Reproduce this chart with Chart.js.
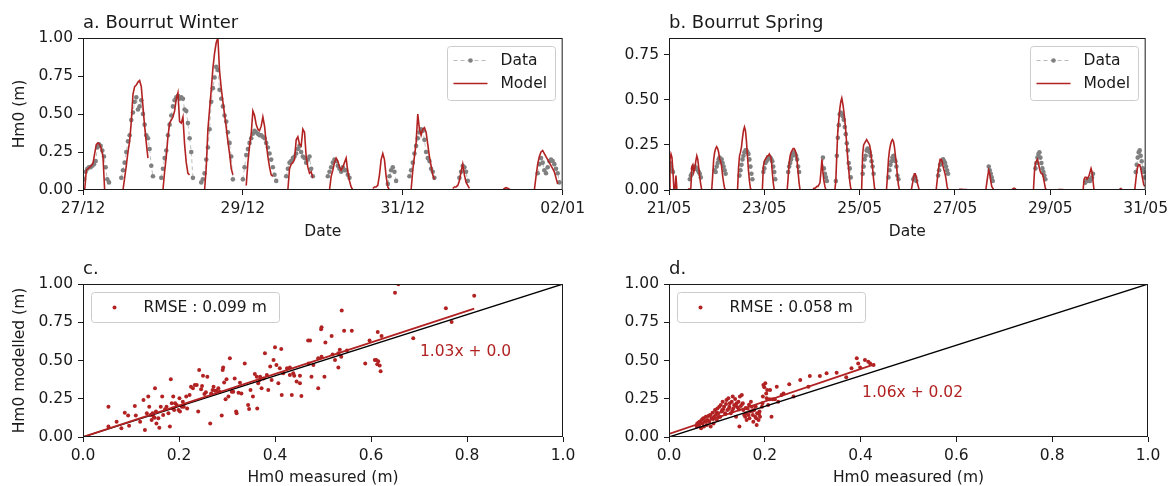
<!DOCTYPE html>
<html lang="en">
<head>
<meta charset="UTF-8">
<title>Bourrut Hm0 - data vs model</title>
<script src="https://cdn.jsdelivr.net/npm/chart.js"></script>
<style>
  html, body { margin: 0; padding: 0; background: #fff; overflow: hidden; }
  #page { position: relative; width: 1173px; height: 486px; overflow: hidden; }
  .panel { position: absolute; }
  .panel canvas { display: block; }
</style>
</head>
<body>
<div id="page">
  <div class="panel" style="left:0;top:0"><canvas id="winterTs" width="590" height="250"></canvas></div>
  <div class="panel" style="left:590px;top:0"><canvas id="springTs" width="583" height="250"></canvas></div>
  <div class="panel" style="left:0;top:250px"><canvas id="winterSc" width="590" height="240"></canvas></div>
  <div class="panel" style="left:590px;top:250px"><canvas id="springSc" width="583" height="240"></canvas></div>
</div>

<script>
// ---- data (hours since start of period, Hm0 in m), half-hourly samples ----
const sampleStep = 0.5;

// a. winter, 27/12 -> 02/01
const winterXTicks = [0, 48, 96, 144];
const winterXLabels = ['27/12', '29/12', '31/12', '02/01'];
const winterYTicks = [0, 0.25, 0.5, 0.75, 1];
const winterYLabels = ['0.00', '0.25', '0.50', '0.75', '1.00'];

const winterDataStart = [0.3, 11.5, 23.5, 35.5, 48, 61, 73.5, 91.5, 98, 113, 136.5];
const winterDataHm = [
  [0.07, 0.12, 0.14, 0.15, 0.15, 0.16, 0.17, 0.19, 0.28, 0.30, 0.29, 0.26, 0.22, 0.15, 0.07, 0.05],
  [0.08, 0.13, 0.18, 0.25, 0.32, 0.36, 0.46, 0.51, 0.58, 0.61, 0.53, 0.55, 0.59, 0.50, 0.43, 0.36, 0.34, 0.27, 0.16, 0.09],
  [0.08, 0.14, 0.21, 0.26, 0.36, 0.43, 0.49, 0.55, 0.59, 0.61, 0.62, 0.60, 0.61, 0.60, 0.53, 0.52, 0.44, 0.34, 0.25, 0.08],
  [0.05, 0.07, 0.11, 0.20, 0.28, 0.40, 0.58, 0.67, 0.74, 0.81, 0.79, 0.66, 0.60, 0.55, 0.49, 0.45, 0.38, 0.31, 0.22, 0.07],
  [0.07, 0.15, 0.23, 0.27, 0.31, 0.34, 0.37, 0.39, 0.38, 0.37, 0.36, 0.36, 0.35, 0.34, 0.31, 0.28, 0.24, 0.20, 0.15, 0.10, 0.06],
  [0.09, 0.14, 0.18, 0.19, 0.21, 0.22, 0.24, 0.27, 0.29, 0.25, 0.22, 0.21, 0.18, 0.20, 0.22, 0.14, 0.09],
  [0.09, 0.12, 0.15, 0.18, 0.20, 0.19, 0.16, 0.14, 0.12, 0.15, 0.13, 0.13, 0.10, 0.08],
  [0.04, 0.09, 0.13, 0.15, 0.12, 0.06],
  [0.09, 0.13, 0.18, 0.24, 0.29, 0.34, 0.38, 0.40, 0.39, 0.33, 0.25, 0.21, 0.19, 0.14, 0.12, 0.08],
  [0.08, 0.12, 0.16, 0.15, 0.12, 0.06],
  [0.11, 0.17, 0.21, 0.18, 0.13, 0.11, 0.15, 0.19, 0.20, 0.19, 0.17, 0.14, 0.11, 0.05]
];

const winterModelStart = [0.5, 12, 24, 36.5, 49, 61.5, 74, 87, 98.5, 111, 126, 135.5];
const winterModelHm = [
  [0, 0.13, 0.14, 0.15, 0.16, 0.175, 0.24, 0.30, 0.31, 0.30, 0.27, 0.22, 0],
  [0, 0.08, 0.16, 0.25, 0.32, 0.45, 0.63, 0.68, 0.69, 0.71, 0.72, 0.68, 0.55, 0.42, 0.31, 0.21],
  [0, 0.12, 0.22, 0.35, 0.44, 0.46, 0.48, 0.52, 0.60, 0.64, 0.45, 0.44, 0.48, 0.30, 0.18, 0.11, 0.10],
  [0, 0.15, 0.40, 0.53, 0.66, 0.80, 0.90, 0.97, 1.0, 0.78, 0.67, 0.58, 0.50, 0.41, 0.32, 0.24, 0.14, 0.10],
  [0.03, 0.18, 0.29, 0.37, 0.52, 0.49, 0.43, 0.40, 0.39, 0.42, 0.48, 0.42, 0.31, 0.22, 0.15, 0.10, 0.09],
  [0, 0.14, 0.17, 0.18, 0.20, 0.33, 0.35, 0.30, 0.29, 0.40, 0.38, 0.22, 0.15, 0.11, 0.12, 0.08],
  [0, 0.09, 0.13, 0.18, 0.21, 0.19, 0.15, 0.13, 0.15, 0.18, 0.21, 0.12, 0.06, 0.02, 0],
  [0.01, 0.02, 0.02, 0.03, 0.10, 0.20, 0.24, 0.20, 0.09, 0.02, 0],
  [0, 0.13, 0.22, 0.31, 0.50, 0.40, 0.36, 0.40, 0.41, 0.38, 0.30, 0.22, 0.16, 0.10, 0.07],
  [0.01, 0.02, 0.02, 0.03, 0.06, 0.12, 0.17, 0.10, 0.05, 0.03, 0.01],
  [0, 0.01, 0.015, 0.012, 0.005, 0],
  [0, 0.09, 0.17, 0.22, 0.25, 0.26, 0.24, 0.22, 0.20, 0.18, 0.16, 0.14, 0.12, 0.08, 0.04]
];

// b. spring, 21/05 -> 31/05
const springXTicks = [0, 48, 96, 144, 192, 240];
const springXLabels = ['21/05', '23/05', '25/05', '27/05', '29/05', '31/05'];
const springYTicks = [0, 0.25, 0.5, 0.75];
const springYLabels = ['0.00', '0.25', '0.50', '0.75'];

const springDataStart = [0.5, 10.5, 23, 35.5, 47.5, 60, 77.5, 84, 97.5, 110.5, 123, 135.5, 161, 184.5, 209.5, 235];
const springDataHm = [
  [0.15, 0.13, 0.11, 0.10],
  [0.06, 0.08, 0.09, 0.12, 0.12, 0.13, 0.12, 0.12, 0.11, 0.10, 0.09, 0.07],
  [0.11, 0.10, 0.13, 0.15, 0.17, 0.18, 0.16, 0.17, 0.15, 0.13, 0.11, 0.09],
  [0.08, 0.11, 0.14, 0.17, 0.19, 0.21, 0.22, 0.22, 0.21, 0.20, 0.17, 0.13, 0.09, 0.06],
  [0.10, 0.12, 0.15, 0.16, 0.17, 0.18, 0.18, 0.18, 0.17, 0.16, 0.13, 0.10, 0.06],
  [0.10, 0.13, 0.15, 0.17, 0.19, 0.20, 0.21, 0.20, 0.19, 0.17, 0.13, 0.10],
  [0.18, 0.12, 0.09, 0.07, 0.05],
  [0.05, 0.19, 0.29, 0.36, 0.42, 0.43, 0.42, 0.41, 0.39, 0.35, 0.31, 0.26, 0.22, 0.15, 0.12, 0.07],
  [0.09, 0.13, 0.17, 0.19, 0.22, 0.23, 0.22, 0.21, 0.19, 0.16, 0.13, 0.09],
  [0.07, 0.11, 0.14, 0.16, 0.18, 0.19, 0.17, 0.16, 0.13, 0.08, 0.06],
  [0.06, 0.07, 0.07, 0.05],
  [0.08, 0.11, 0.14, 0.15, 0.16, 0.17, 0.16, 0.15, 0.13, 0.11, 0.09],
  [0.13, 0.11, 0.09, 0.07, 0.05],
  [0.12, 0.15, 0.18, 0.20, 0.21, 0.18, 0.15, 0.12, 0.10, 0.08, 0.06],
  [0.04, 0.05, 0.05, 0.06, 0.05, 0.05, 0.06, 0.07, 0.09],
  [0.10, 0.14, 0.18, 0.21, 0.22, 0.19, 0.16, 0.12, 0.10, 0.07]
];

const springModelStart = [0, 3, 9.5, 21.5, 34.5, 47, 59.5, 72.5, 83.5, 97, 109.5, 122, 134.5, 146, 159.5, 172.5, 183.5, 196, 208.5, 226.5, 234.5];
const springModelHm = [
  [0, 0.17, 0.20, 0.18, 0.10, 0],
  [0, 0.08, 0],
  [0.005, 0.005, 0.005, 0.01, 0.13, 0.14, 0.10, 0.12, 0.16, 0.19, 0.17, 0.12, 0.07, 0.03, 0],
  [0, 0.08, 0.17, 0.21, 0.23, 0.24, 0.23, 0.21, 0.17, 0.16, 0.13, 0.08, 0.04, 0.01, 0],
  [0, 0.12, 0.19, 0.21, 0.24, 0.29, 0.33, 0.35, 0.33, 0.27, 0.19, 0.11, 0.05, 0.01, 0],
  [0, 0.13, 0.16, 0.17, 0.18, 0.19, 0.19, 0.20, 0.19, 0.17, 0.10, 0.04, 0],
  [0, 0.07, 0.15, 0.19, 0.21, 0.22, 0.23, 0.23, 0.22, 0.20, 0.16, 0.10, 0.04, 0],
  [0.005, 0.01, 0.01, 0.015, 0.02, 0.02, 0.03, 0.04, 0.10, 0.17, 0.10, 0.05, 0.02, 0],
  [0, 0.05, 0.20, 0.33, 0.39, 0.45, 0.49, 0.51, 0.48, 0.44, 0.39, 0.33, 0.25, 0.17, 0.11, 0.05, 0.01, 0],
  [0, 0.20, 0.25, 0.26, 0.27, 0.28, 0.27, 0.26, 0.25, 0.22, 0.17, 0.12, 0.06, 0.01, 0],
  [0, 0.08, 0.17, 0.22, 0.25, 0.27, 0.28, 0.27, 0.24, 0.19, 0.14, 0.08, 0.03, 0],
  [0, 0.03, 0.06, 0.09, 0.09, 0.07, 0.04, 0.02, 0],
  [0, 0.05, 0.10, 0.14, 0.17, 0.17, 0.16, 0.13, 0.11, 0.09, 0.06, 0.02, 0],
  [0.004, 0.004, 0.004, 0.004, 0.003, 0.003, 0.003, 0.003, 0.002],
  [0, 0.04, 0.08, 0.11, 0.09, 0.05, 0.02, 0.01, 0],
  [0, 0.005, 0.01, 0.01, 0.005, 0],
  [0, 0.10, 0.15, 0.16, 0.17, 0.15, 0.12, 0.10, 0.09, 0.09, 0.07, 0.04, 0.01, 0],
  [0.003, 0.003, 0.003, 0.003, 0.003, 0.003],
  [0, 0.06, 0.07, 0.07, 0.06, 0.07, 0.08, 0.10, 0.12, 0.10, 0.05, 0],
  [0, 0.005, 0.008, 0.004, 0],
  [0, 0.05, 0.10, 0.13, 0.14, 0.14, 0.12, 0.09, 0.06, 0.03, 0.02]
];

// c. / d. scatter: measured vs modelled
const scatterXTicks = [0, 0.2, 0.4, 0.6, 0.8, 1.0];
const scatterXLabels = ['0.0', '0.2', '0.4', '0.6', '0.8', '1.0'];
const scatterYTicks = [0, 0.25, 0.5, 0.75, 1];
const scatterYLabels = ['0.00', '0.25', '0.50', '0.75', '1.00'];

const winterMeasured = [
  0.053, 0.053, 0.070, 0.080, 0.087, 0.094, 0.096, 0.108, 0.110, 0.119, 0.126, 0.129, 0.133, 0.136, 0.138, 0.141, 0.143, 0.145, 0.147, 0.149,
  0.150, 0.152, 0.153, 0.157, 0.159, 0.162, 0.165, 0.167, 0.171, 0.174, 0.178, 0.181, 0.183, 0.185, 0.187, 0.188, 0.190, 0.192, 0.195, 0.199,
  0.201, 0.202, 0.206, 0.208, 0.210, 0.215, 0.217, 0.222, 0.225, 0.229, 0.233, 0.237, 0.240, 0.242, 0.246, 0.248, 0.250, 0.253, 0.256, 0.259,
  0.265, 0.267, 0.270, 0.272, 0.275, 0.278, 0.282, 0.285, 0.289, 0.291, 0.292, 0.294, 0.297, 0.299, 0.303, 0.306, 0.310, 0.313, 0.316, 0.319,
  0.320, 0.324, 0.327, 0.330, 0.337, 0.344, 0.346, 0.349, 0.354, 0.358, 0.362, 0.363, 0.365, 0.368, 0.369, 0.372, 0.376, 0.379, 0.383, 0.386,
  0.390, 0.393, 0.397, 0.400, 0.403, 0.407, 0.410, 0.414, 0.417, 0.431, 0.435, 0.438, 0.445, 0.452, 0.413, 0.425, 0.431, 0.440, 0.452, 0.455,
  0.469, 0.473, 0.476, 0.470, 0.480, 0.490, 0.490, 0.497, 0.496, 0.497, 0.503, 0.505, 0.518, 0.520, 0.525, 0.532, 0.532, 0.535, 0.538, 0.539,
  0.544, 0.550, 0.560, 0.588, 0.597, 0.608, 0.611, 0.613, 0.615, 0.618, 0.620, 0.614, 0.622, 0.650, 0.657, 0.688, 0.756, 0.768, 0.815
];
const winterModelled = [
  0.198, 0.068, 0.100, 0.057, 0.159, 0.140, 0.074, 0.203, 0.140, 0.100, 0.242, 0.046, 0.155, 0.264, 0.198, 0.144, 0.111, 0.155, 0.133, 0.126,
  0.318, 0.166, 0.089, 0.122, 0.061, 0.198, 0.264, 0.144, 0.181, 0.198, 0.155, 0.068, 0.377, 0.220, 0.187, 0.264, 0.176, 0.220, 0.209, 0.176,
  0.253, 0.166, 0.198, 0.231, 0.198, 0.264, 0.187, 0.275, 0.329, 0.318, 0.340, 0.340, 0.166, 0.438, 0.312, 0.333, 0.400, 0.281, 0.292, 0.394,
  0.089, 0.285, 0.307, 0.329, 0.303, 0.303, 0.318, 0.296, 0.140, 0.438, 0.455, 0.357, 0.246, 0.377, 0.264, 0.514, 0.296, 0.296, 0.383, 0.166,
  0.155, 0.290, 0.355, 0.285, 0.481, 0.209, 0.183, 0.307, 0.264, 0.412, 0.394, 0.187, 0.351, 0.373, 0.394, 0.318, 0.383, 0.547, 0.405, 0.307,
  0.460, 0.373, 0.503, 0.586, 0.470, 0.351, 0.449, 0.275, 0.416, 0.405, 0.275, 0.416, 0.362, 0.351, 0.575, 0.449, 0.455, 0.400, 0.400, 0.268,
  0.630, 0.630, 0.394, 0.480, 0.470, 0.318, 0.514, 0.525, 0.704, 0.717, 0.394, 0.617, 0.660, 0.540, 0.503, 0.547, 0.455, 0.570, 0.525, 0.826,
  0.695, 0.565, 0.695, 0.480, 0.630, 0.503, 0.503, 0.475, 0.495, 0.468, 0.430, 0.686, 0.660, 0.943, 0.998, 0.645, 0.841, 0.752, 0.924
];

const springMeasured = [
  0.058, 0.059, 0.063, 0.064, 0.067, 0.068, 0.070, 0.072, 0.073, 0.075, 0.077, 0.079, 0.080, 0.082, 0.084, 0.086, 0.087, 0.089, 0.091, 0.093,
  0.094, 0.096, 0.098, 0.100, 0.101, 0.103, 0.105, 0.107, 0.108, 0.110, 0.112, 0.113, 0.115, 0.117, 0.119, 0.120, 0.122, 0.124, 0.126, 0.127,
  0.129, 0.131, 0.133, 0.134, 0.136, 0.138, 0.140, 0.141, 0.143, 0.145, 0.147, 0.148, 0.150, 0.152, 0.154, 0.155, 0.157, 0.159, 0.161, 0.162,
  0.164, 0.166, 0.168, 0.169, 0.171, 0.173, 0.175, 0.176, 0.178, 0.180, 0.182, 0.183, 0.184, 0.187, 0.189, 0.190, 0.194, 0.196, 0.197, 0.199,
  0.201, 0.203, 0.204, 0.205, 0.207, 0.210, 0.211, 0.214, 0.216, 0.221, 0.225, 0.228, 0.235, 0.239, 0.251, 0.260, 0.274, 0.291, 0.294, 0.315,
  0.329, 0.350, 0.370, 0.381, 0.392, 0.395, 0.399, 0.409, 0.416, 0.420, 0.427,
  0.062, 0.071, 0.078, 0.085, 0.092, 0.099, 0.104, 0.111, 0.118, 0.125, 0.132, 0.139, 0.146, 0.153, 0.160, 0.167, 0.174, 0.181, 0.188, 0.195
];
const springModelled = [
  0.068, 0.089, 0.078, 0.100, 0.057, 0.111, 0.089, 0.122, 0.068, 0.100, 0.133, 0.078, 0.111, 0.137, 0.100, 0.144, 0.068, 0.122, 0.159, 0.089,
  0.133, 0.177, 0.144, 0.111, 0.187, 0.155, 0.198, 0.133, 0.209, 0.166, 0.231, 0.181, 0.198, 0.155, 0.216, 0.242, 0.177, 0.253, 0.198, 0.220,
  0.155, 0.231, 0.264, 0.187, 0.209, 0.249, 0.133, 0.220, 0.194, 0.231, 0.068, 0.264, 0.203, 0.275, 0.220, 0.177, 0.144, 0.133, 0.155, 0.111,
  0.187, 0.144, 0.122, 0.166, 0.231, 0.198, 0.144, 0.100, 0.177, 0.133, 0.122, 0.078, 0.155, 0.111, 0.166, 0.133, 0.198, 0.264, 0.340, 0.325,
  0.351, 0.285, 0.253, 0.307, 0.209, 0.246, 0.307, 0.133, 0.246, 0.246, 0.329, 0.231, 0.275, 0.285, 0.344, 0.264, 0.372, 0.329, 0.399, 0.399,
  0.416, 0.420, 0.390, 0.449, 0.514, 0.481, 0.455, 0.503, 0.492, 0.481, 0.471,
  0.095, 0.120, 0.105, 0.140, 0.118, 0.160, 0.130, 0.175, 0.150, 0.185, 0.170, 0.205, 0.180, 0.215, 0.190, 0.210, 0.170, 0.200, 0.150, 0.220
];

const winterFit = [1.03, 0.0];
const springFit = [1.06, 0.02];
const winterFitEnd = 0.815;
const springFitEnd = 0.43;
const winterFitLabel = '1.03x + 0.0';
const springFitLabel = '1.06x + 0.02';
const winterRmse = 'RMSE : 0.099 m';
const springRmse = 'RMSE : 0.058 m';

// ---- styling ----
const ink = '#1a1a1a';
const modelRed = '#b22222';
const dataGrey = '#808080';

Chart.defaults.font.family = 'DejaVu Sans';
Chart.defaults.font.size = 15.5;
Chart.defaults.color = ink;

function series(starts, values) {
  const pts = [];
  starts.forEach((t0, i) => {
    values[i].forEach((v, j) => pts.push({x: t0 + j * sampleStep, y: v}));
    pts.push({x: t0 + values[i].length * sampleStep, y: null});
  });
  return pts;
}

function axis(min, max, ticks, labels, fitSize, horizontal, title, titlePad) {
  return {
    type: 'linear', min: min, max: max,
    afterBuildTicks: s => { s.ticks = ticks.map(v => ({value: v})); },
    afterFit: s => { if (horizontal) s.height = fitSize; else s.width = fitSize; },
    ticks: { autoSkip: false, maxRotation: 0, padding: 5, color: ink, callback: (v, i) => labels[i] },
    grid: { drawOnChartArea: false, drawTicks: true, tickLength: 5, tickColor: ink, tickWidth: 1 },
    border: { display: false },
    title: {
      display: !!title, text: title || '', color: ink,
      padding: horizontal ? {top: 0, bottom: titlePad} : {top: titlePad, bottom: 0}
    }
  };
}

function roundBox(ctx, x, y, w, h, r) {
  ctx.beginPath();
  ctx.moveTo(x + r, y);
  ctx.arcTo(x + w, y, x + w, y + h, r);
  ctx.arcTo(x + w, y + h, x, y + h, r);
  ctx.arcTo(x, y + h, x, y, r);
  ctx.arcTo(x, y, x + w, y, r);
  ctx.closePath();
  ctx.fillStyle = 'rgba(255,255,255,0.8)';
  ctx.fill();
  ctx.strokeStyle = '#cccccc';
  ctx.lineWidth = 1;
  ctx.stroke();
}

// frame, panel title, legend box and fit label
function decor(cfg) {
  return {
    id: 'decor',
    afterDatasetsDraw(chart) {
      const {ctx, chartArea: a} = chart;
      ctx.save();
      ctx.strokeStyle = ink;
      ctx.lineWidth = 1;
      ctx.strokeRect(a.left + 0.5, a.top + 0.5, a.right - a.left - 1, a.bottom - a.top - 1);

      ctx.fillStyle = ink;
      ctx.font = '18px DejaVu Sans';
      ctx.textBaseline = 'alphabetic';
      ctx.textAlign = 'left';
      ctx.fillText(cfg.title, a.left, a.top - 10);

      ctx.font = '15.5px DejaVu Sans';
      ctx.textBaseline = 'middle';
      if (cfg.kind === 'ts') {
        const bx = Math.round(a.right - 8 - 108) + 0.5, by = Math.round(a.top + 8) + 0.5;
        roundBox(ctx, bx, by, 108, 54, 3);
        const r1 = by + 14, r2 = by + 37;
        ctx.strokeStyle = 'rgba(128,128,128,0.55)';
        ctx.setLineDash([4, 3]);
        ctx.beginPath(); ctx.moveTo(bx + 6, r1); ctx.lineTo(bx + 40, r1); ctx.stroke();
        ctx.setLineDash([]);
        ctx.fillStyle = dataGrey;
        ctx.beginPath(); ctx.arc(bx + 23, r1, 2.3, 0, Math.PI * 2); ctx.fill();
        ctx.strokeStyle = modelRed;
        ctx.lineWidth = 1.6;
        ctx.beginPath(); ctx.moveTo(bx + 6, r2); ctx.lineTo(bx + 40, r2); ctx.stroke();
        ctx.fillStyle = ink;
        ctx.fillText('Data', bx + 53, r1);
        ctx.fillText('Model', bx + 53, r2);
      } else {
        const bx = Math.round(a.left + 8) + 0.5, by = Math.round(a.top + 8) + 0.5;
        roundBox(ctx, bx, by, 188, 30, 3);
        ctx.fillStyle = modelRed;
        ctx.beginPath(); ctx.arc(bx + 23, by + 15, 2, 0, Math.PI * 2); ctx.fill();
        ctx.fillStyle = ink;
        ctx.fillText(cfg.rmse, bx + 52, by + 15);
        ctx.fillStyle = modelRed;
        ctx.fillText(cfg.fitLabel, chart.scales.x.getPixelForValue(cfg.labelAt[0]), chart.scales.y.getPixelForValue(cfg.labelAt[1]));
      }
      ctx.restore();
    }
  };
}

function timeSeriesChart(id, o) {
  new Chart(document.getElementById(id), {
    type: 'line',
    data: {
      datasets: [
        { label: 'Model', data: series(o.modelStart, o.modelHm), borderColor: modelRed, borderWidth: 1.6,
          pointRadius: 0, spanGaps: false, tension: 0, order: 0 },
        { label: 'Data', data: series(o.dataStart, o.dataHm), borderColor: 'rgba(128,128,128,0.5)', borderWidth: 1,
          borderDash: [4, 3], pointRadius: 2.3, pointBackgroundColor: dataGrey, pointBorderWidth: 0,
          spanGaps: false, tension: 0, order: 1 }
      ]
    },
    options: {
      responsive: false, animation: false, devicePixelRatio: 1,
      layout: { padding: { left: 0, top: 38, right: o.right, bottom: 0 } },
      plugins: { legend: { display: false }, tooltip: { enabled: false } },
      scales: {
        x: axis(0, o.xMax, o.xTicks, o.xLabels, 60, true, 'Date', 8.5),
        y: axis(0, o.yMax, o.yTicks, o.yLabels, o.yWidth, false, o.yTitle, 11)
      }
    },
    plugins: [decor({ kind: 'ts', title: o.title })]
  });
}

function scatterChart(id, o) {
  const pts = o.measured.map((m, i) => ({x: m, y: o.modelled[i]}));
  new Chart(document.getElementById(id), {
    type: 'scatter',
    data: {
      datasets: [
        { label: 'fit', data: [{x: 0, y: o.fit[1]}, {x: o.fitEnd, y: o.fit[0] * o.fitEnd + o.fit[1]}],
          showLine: true, borderColor: modelRed, borderWidth: 1.8, pointRadius: 0, order: 0 },
        { label: '1:1', data: [{x: 0, y: 0}, {x: 1, y: 1}],
          showLine: true, borderColor: '#000000', borderWidth: 1.3, pointRadius: 0, order: 1 },
        { label: 'points', data: pts, pointRadius: 2, pointBackgroundColor: modelRed, pointBorderWidth: 0, order: 2 }
      ]
    },
    options: {
      responsive: false, animation: false, devicePixelRatio: 1,
      layout: { padding: { left: 0, top: 34, right: o.right, bottom: 0 } },
      plugins: { legend: { display: false }, tooltip: { enabled: false } },
      scales: {
        x: axis(0, 1, scatterXTicks, scatterXLabels, 53, true, 'Hm0 measured (m)', 2.5),
        y: axis(0, 1, scatterYTicks, scatterYLabels, o.yWidth, false, o.yTitle, 11)
      }
    },
    plugins: [decor({ kind: 'sc', title: o.title, rmse: o.rmse, fitLabel: o.fitLabel, labelAt: o.labelAt })]
  });
}

timeSeriesChart('winterTs', {
  title: 'a. Bourrut Winter', xMax: 144, yMax: 1, right: 27, yWidth: 83, yTitle: 'Hm0 (m)',
  xTicks: winterXTicks, xLabels: winterXLabels, yTicks: winterYTicks, yLabels: winterYLabels,
  dataStart: winterDataStart, dataHm: winterDataHm, modelStart: winterModelStart, modelHm: winterModelHm
});
timeSeriesChart('springTs', {
  title: 'b. Bourrut Spring', xMax: 240, yMax: 0.844, right: 25, yWidth: 79, yTitle: '',
  xTicks: springXTicks, xLabels: springXLabels, yTicks: springYTicks, yLabels: springYLabels,
  dataStart: springDataStart, dataHm: springDataHm, modelStart: springModelStart, modelHm: springModelHm
});
scatterChart('winterSc', {
  title: 'c.', right: 27, yWidth: 83, yTitle: 'Hm0 modelled (m)',
  measured: winterMeasured, modelled: winterModelled, fit: winterFit, fitEnd: winterFitEnd,
  rmse: winterRmse, fitLabel: winterFitLabel, labelAt: [0.702, 0.556]
});
scatterChart('springSc', {
  title: 'd.', right: 25, yWidth: 79, yTitle: '',
  measured: springMeasured, modelled: springModelled, fit: springFit, fitEnd: springFitEnd,
  rmse: springRmse, fitLabel: springFitLabel, labelAt: [0.403, 0.288]
});
</script>
</body>
</html>
